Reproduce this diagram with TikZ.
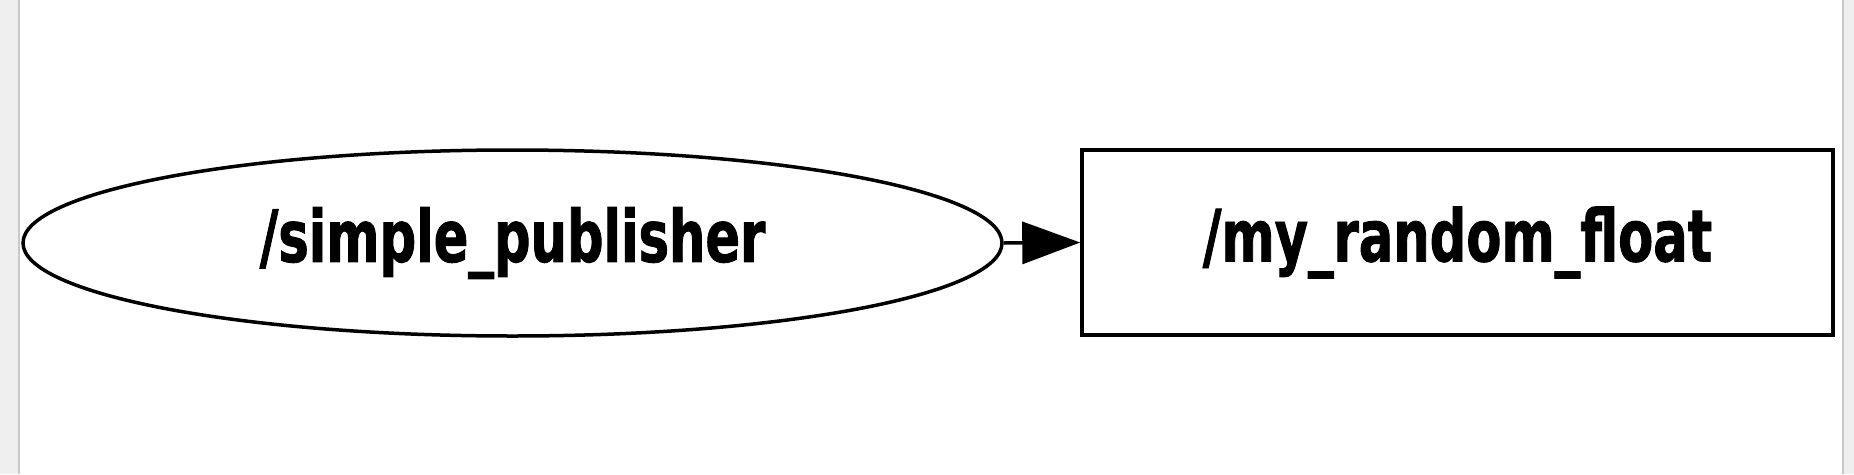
\documentclass[tikz,border=0pt]{standalone}
\usepackage{fontspec}
\setmainfont{DejaVu Sans}
\newfontfamily\graphfont[FakeStretch=0.71,FakeBold=1.2,UprightFont={* Bold}]{DejaVu Sans}
\usetikzlibrary{shapes.geometric,arrows.meta}
\definecolor{panelgray}{HTML}{EFEFEF}
\definecolor{edgegray}{HTML}{C8C8C8}
\newcommand{\lowered}[1]{\raisebox{-5pt}{#1}}
\tikzset{
  lbl/.style={font=\graphfont\fontsize{72}{80}\selectfont},
  nodeell/.style={ellipse,draw=black,line width=3.5pt,minimum width=979pt,minimum height=186pt,inner sep=0pt,lbl},
  topicbox/.style={rectangle,draw=black,line width=3.5pt,minimum width=751pt,minimum height=185pt,inner sep=0pt,lbl},
  conn/.style={line width=3.5pt,-{Triangle[length=58pt,width=42pt]}}
}
\begin{document}
\begin{tikzpicture}[x=1pt,y=-1pt]
\useasboundingbox (0,0) rectangle (1854,474);
\fill[white] (0,0) rectangle (1854,474);
\fill[panelgray] (0,0) rectangle (18,474);
\fill[panelgray] (1844,0) rectangle (1854,474);
\draw[edgegray,line width=2pt] (19,0) -- (19,474);
\draw[edgegray,line width=2pt] (1843,0) -- (1843,474);
\node[nodeell] (pub) at (512.5,243) {\lowered{/simple\_publisher}};
\node[topicbox] (topic) at (1457.5,242.5) {\lowered{/my\_random\_float}};
\draw[conn] (pub.east) -- (topic.west);
\end{tikzpicture}
\end{document}
